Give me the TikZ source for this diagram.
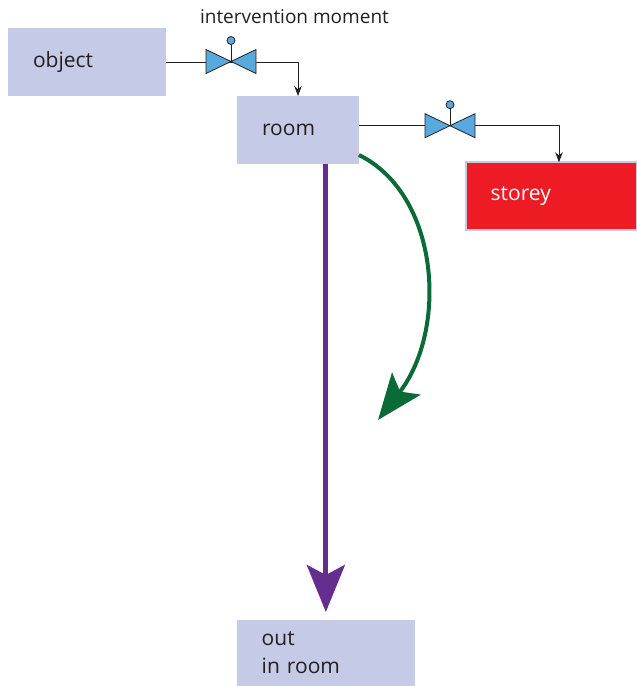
\documentclass[tikz,border=0pt]{standalone}
\usepackage{fontspec}
\setmainfont{Open Sans}
\usetikzlibrary{arrows.meta}
\definecolor{boxfill}{HTML}{C5CAE6}
\definecolor{txt}{HTML}{231F20}
\definecolor{redbox}{HTML}{ED1C24}
\definecolor{valveblue}{HTML}{58A9DE}
\definecolor{garrow}{HTML}{0B6B37}
\definecolor{parrow}{HTML}{662D91}
\begin{document}
\begin{tikzpicture}[x=1pt,y=-1pt,
  box/.style={fill=boxfill, draw=none, inner xsep=25pt, inner ysep=0pt, outer sep=0pt,
    align=left, font=\fontsize{21}{27.7}\selectfont, text=txt, anchor=north west},
  conn/.style={draw=txt, line width=0.9pt, -{Stealth[length=10pt,width=7.5pt]}},
  valveline/.style={draw=txt, line width=0.8pt, fill=valveblue, line join=miter},
  valve/.pic={
    \draw[valveline] (-25,-12) -- (0,0) -- (-25,12) -- cycle;
    \draw[valveline] (25,-12) -- (0,0) -- (25,12) -- cycle;
    \draw[draw=txt, line width=0.8pt] (0,0) -- (0,-17);
    \draw[valveline] (0,-21) circle (4);
  },
  purplearrow/.style={draw=parrow, line width=5pt, -{Stealth[length=47pt,width=38pt,inset=10pt]}, shorten >=8pt},
  greenarrow/.style={draw=garrow, line width=4pt, -{Stealth[length=46pt,width=36pt,inset=10pt]}},
  lbl/.style={font=\fontsize{19}{22}\selectfont, text=txt, inner sep=0pt}
]
\useasboundingbox (0,0) rectangle (637,686);

\node[box, minimum width=157.7pt, minimum height=68pt, text width=107.7pt] (object) at (8,28) {object};
\node[box, minimum width=122pt, minimum height=68pt, text width=72pt] (room) at (237,96) {room};
\node[box, fill=redbox, draw=boxfill, line width=2pt, text=white, minimum width=171.3pt, minimum height=67.7pt, text width=121.3pt] (storey) at (465.7,162.3) {storey};
\node[box, minimum width=178.3pt, minimum height=66pt, text width=128.3pt] (out) at (236.7,620) {out\\in room};

\node[lbl] (moment) at (294.5,17) {intervention moment};

\coordinate (v1) at (231,61.5);
\coordinate (v2) at (450,125.7);
\coordinate (c2) at (559,125.7);
\coordinate (gtip) at (378,420);

\draw[conn] (object.east) -| (room.north);
\draw[conn] (room.east |- v2) -- (c2) -- (c2 |- storey.north);
\pic at (v1) {valve};
\pic at (v2) {valve};

\draw[purplearrow] (room.south -| out.north) -- (out.north);
\draw[greenarrow] ([yshift=9pt]room.south east) .. controls (440,195) and (448,330) .. (gtip);
\end{tikzpicture}
\end{document}
